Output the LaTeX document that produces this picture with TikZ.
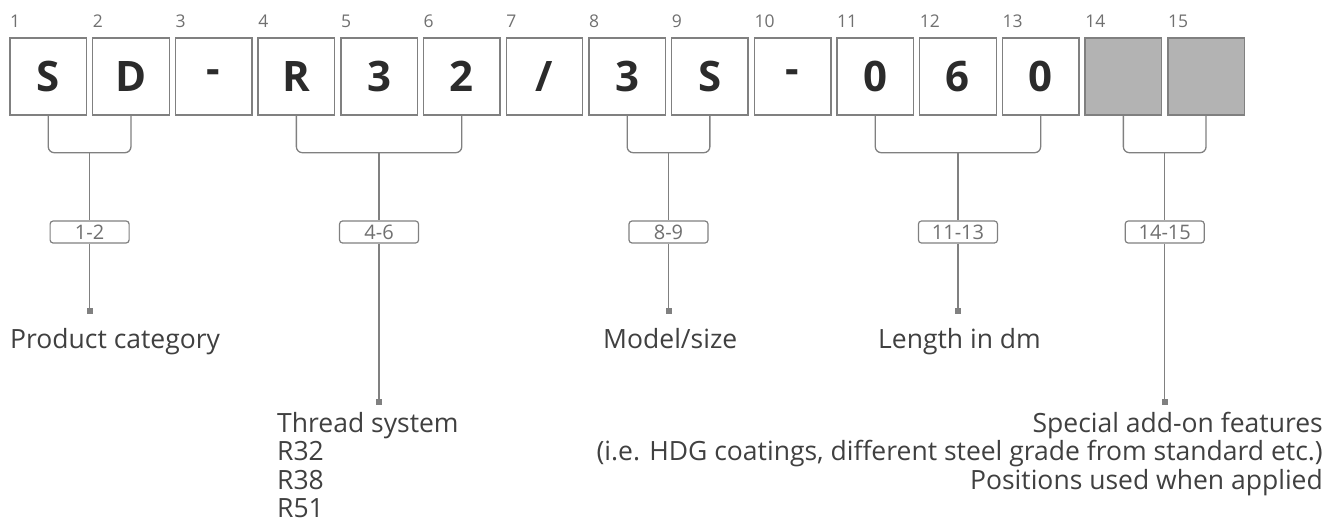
\documentclass[tikz,border=0pt]{standalone}
\usepackage{fontspec}
\setmainfont{Open Sans}
\definecolor{boxline}{HTML}{808080}
\definecolor{greyfill}{HTML}{B3B3B3}
\definecolor{celltxt}{HTML}{2B2B2B}
\definecolor{numc}{HTML}{707070}
\definecolor{lbltxt}{HTML}{404040}
\tikzset{
  cell/.style={draw=boxline, line width=1.4pt, minimum width=76.5pt, minimum height=77pt,
    inner sep=0pt, font=\fontsize{42}{42}\selectfont\bfseries, text=celltxt},
  greycell/.style={cell, fill=greyfill},
  posnum/.style={anchor=base west, inner sep=0pt, font=\fontsize{17.5}{17.5}\selectfont, text=numc},
  rangebox/.style={draw=boxline, line width=1.2pt, rounded corners=3pt, minimum width=79pt,
    minimum height=22pt, inner sep=0pt, fill=white, font=\fontsize{20}{20}\selectfont, text=numc},
  brk/.style={draw=boxline, line width=1.3pt},
  mk/.style={rectangle, fill=boxline, minimum size=6pt, inner sep=0pt},
  lbl/.style={inner sep=0pt, font=\fontsize{26.5}{28.4}\selectfont, text=lbltxt}
}
\begin{document}
\begin{tikzpicture}[x=1pt,y=-1pt]
\useasboundingbox (0,0) rectangle (1343,520);
% cells
\foreach \i/\c in {1/S,2/D,3/-,4/R,5/3,6/2,7/{/},8/3,9/S,10/-,11/0,12/6,13/0}{
  \node[cell] (b\i) at ({48.25+(\i-1)*82.7},76.5) {\c};
}
\foreach \i in {14,15}{
  \node[greycell] (b\i) at ({48.25+(\i-1)*82.7},76.5) {};
}
% position numbers
\foreach \i in {1,...,15}{
  \node[posnum] (n\i) at ({10+(\i-1)*82.7},27) {\i};
}
% groups: first/last/label/center/marker-y
\foreach \f/\l/\t/\cx/\my [count=\g] in {1/2/1-2/89.6/311, 4/6/4-6/379.05/402, 8/9/8-9/668.5/311, 11/13/11-13/957.95/311, 14/15/14-15/1164.7/402}{
  \draw[brk, rounded corners=6pt] (b\f.south) -- ++(0,37) -| (b\l.south);
  \coordinate (h\g) at (\cx,152.5);
  \node[rangebox] (r\g) at (\cx,232) {\t};
  \node[mk] (m\g) at (\cx,\my) {};
  \draw[brk] (h\g) -- (r\g.north);
  \draw[brk] (r\g.south) -- (m\g.center);
}
% descriptions
\node[lbl, anchor=base west] (t1) at (10,348) {Product category};
\node[lbl, anchor=base west] (t3) at (603,348) {Model/size};
\node[lbl, anchor=base west] (t4) at (878,348) {Length in dm};
\node[lbl, anchor=north west, align=left] (t2) at (277,412) {Thread system\\R32\\R38\\R51};
\node[lbl, anchor=north east, align=right] (t5) at (1323,412) {Special add-on features\\(i.e. HDG coatings, different steel grade from standard etc.)\\Positions used when applied};
\end{tikzpicture}
\end{document}
